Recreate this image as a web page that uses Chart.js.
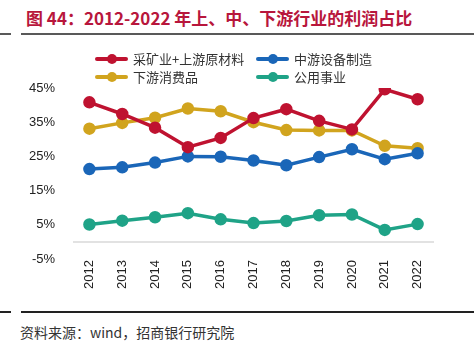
<!DOCTYPE html>
<html>
<head>
<meta charset="utf-8">
<script src="https://cdn.jsdelivr.net/npm/chart.js@4.4.0/dist/chart.umd.min.js"></script>
<style>
body { margin: 0; width: 474px; height: 345px; background: #fff; position: relative; overflow: hidden; font-family: "Noto Sans CJK SC", sans-serif; }
#title { position: absolute; left: 26px; top: 5px; font-size: 17px; font-weight: bold; color: #b8163c; white-space: nowrap; }
.rule { position: absolute; height: 2px; background: #595959; }
#source { position: absolute; left: 20px; top: 322px; font-size: 14px; color: #333; white-space: nowrap; }
#c { position: absolute; left: 0; top: 0; }
.lg { position: absolute; font-size: 13px; color: #333; white-space: nowrap; line-height: 18px; }
.lg i { position: absolute; height: 4px; width: 33px; top: 7px; left: 0; border-radius: 2px; }
.lg b { position: absolute; width: 10px; height: 10px; border-radius: 50%; top: 4px; left: 12px; }
.lg span { position: absolute; left: 38px; top: 0; }
</style>
</head>
<body>
<div id="title">图 44：2012-2022 年上、中、下游行业的利润占比</div>
<div class="rule" style="top:33px;left:0;width:11px"></div>
<div class="rule" style="top:33px;left:21px;width:453px"></div>
<canvas id="c" width="474" height="300"></canvas>
<div id="legend"></div>
<div class="rule" style="top:311px;left:0;width:11px;background:#222"></div>
<div class="rule" style="top:311px;left:21px;width:453px;background:#222"></div>
<div id="source">资料来源：wind，招商银行研究院</div>
<script>
// data (percent of total profit)
const years = ['2012', '2013', '2014', '2015', '2016', '2017', '2018', '2019', '2020', '2021', '2022'];
const upstream = [40.8, 37.4, 33.4, 27.7, 30.4, 36.2, 38.8, 35.4, 32.9, 44.6, 41.7];
const midstream = [21.3, 21.8, 23.2, 25.0, 24.9, 23.8, 22.4, 24.8, 27.1, 24.2, 25.9];
const downstream = [33.1, 34.8, 36.3, 39.0, 38.2, 35.0, 32.7, 32.6, 32.6, 28.1, 27.4];
const utilities = [5.1, 6.2, 7.2, 8.4, 6.6, 5.5, 6.1, 7.8, 8.0, 3.5, 5.2];
const yTicks = [-5, 5, 15, 25, 35, 45];

const names = ['采矿业+上游原材料', '中游设备制造', '下游消费品', '公用事业'];
const colors = ['#bf1230', '#1a66b8', '#d1a41e', '#1fa387'];
const values = [upstream, midstream, downstream, utilities];

// legend, two columns
const legendPos = [[95, 50], [256, 50], [95, 68], [256, 68]];
let lg = document.getElementById('legend');
names.forEach(function (n, i) {
	let d = document.createElement('div');
	d.className = 'lg';
	d.style.left = legendPos[i][0] + 'px';
	d.style.top = legendPos[i][1] + 'px';
	d.innerHTML = '<i style="background:' + colors[i] + '"></i><b style="background:' + colors[i] + '"></b><span>' + n + '</span>';
	lg.appendChild(d);
});

// gray line at 0%
const zeroLine = {
	id: 'zeroLine',
	beforeDatasetsDraw: function (chart) {
		let c = chart.ctx, a = chart.chartArea;
		let y = chart.scales.y.getPixelForValue(0);
		c.save();
		c.strokeStyle = '#d9d9d9';
		c.lineWidth = 1.5;
		c.beginPath();
		c.moveTo(a.left, y);
		c.lineTo(a.right, y);
		c.stroke();
		c.restore();
	}
};

let ds = names.map(function (n, i) {
	return {
		label: n,
		data: values[i],
		borderColor: colors[i],
		backgroundColor: colors[i],
		borderWidth: 3.5,
		pointRadius: 4.5,
		pointHoverRadius: 4.5,
		tension: 0
	};
});

new Chart(document.getElementById('c').getContext('2d'), {
	type: 'line',
	data: { labels: years, datasets: ds },
	plugins: [zeroLine],
	options: {
		responsive: false,
		animation: false,
		layout: { padding: { top: 88, left: 0, right: 40, bottom: 0 } },
		plugins: { legend: { display: false }, tooltip: { enabled: false } },
		scales: {
			x: {
				offset: true,
				grid: { display: false },
				border: { display: false },
				afterFit: function (s) { s.height = 41; },
				ticks: {
					minRotation: 90, maxRotation: 90, padding: -7,
					color: '#222', font: { family: 'Liberation Sans, Arial', size: 13 }
				}
			},
			y: {
				min: -5, max: 45,
				afterBuildTicks: function (s) { s.ticks = yTicks.map(function (v) { return { value: v }; }); },
				afterFit: function (s) { s.width = 73; },
				grid: { display: false },
				border: { display: false },
				ticks: {
					padding: 10,
					color: '#222', font: { family: 'Liberation Sans, Arial', size: 13 },
					callback: function (v) { return v + '%'; }
				}
			}
		}
	}
});
</script>
</body>
</html>
